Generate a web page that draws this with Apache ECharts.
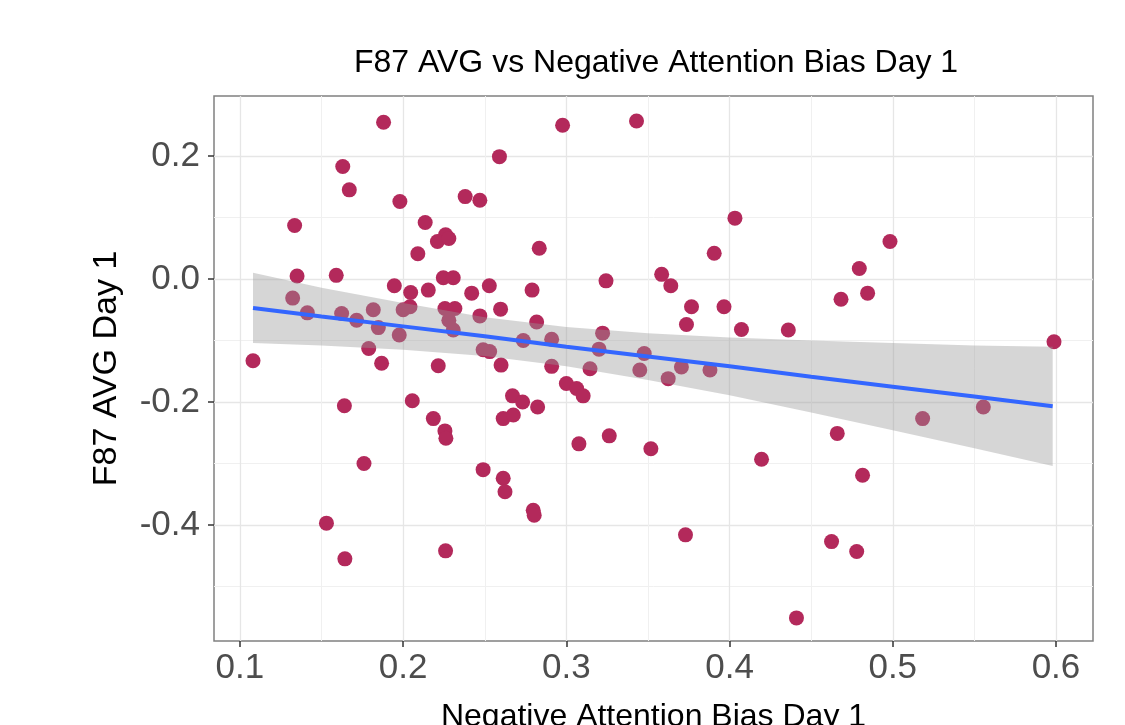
<!DOCTYPE html>
<html>
<head>
<meta charset="utf-8">
<title>F87 AVG vs Negative Attention Bias Day 1</title>
<script src="https://cdn.jsdelivr.net/npm/echarts@6/dist/echarts.min.js"></script>
<style>
  html, body { margin: 0; padding: 0; background: #fff; }
  #chart { width: 1125px; height: 725px; }
</style>
</head>
<body>
<div id="chart"></div>
<script>
// points: [negative attention bias, F87 avg]
var pointsX = [
  0.188, 0.259, 0.163, 0.167, 0.198, 0.238, 0.247, 0.1335, 0.2135, 0.226,
  0.221, 0.228, 0.209, 0.135, 0.159, 0.1946, 0.2046, 0.2154, 0.2246, 0.2307,
  0.242, 0.2528, 0.2597, 0.1323, 0.1413, 0.1623, 0.1715, 0.1817, 0.1848, 0.200,
  0.2042, 0.1976, 0.2256, 0.2317, 0.228, 0.2307, 0.247, 0.1789, 0.108, 0.1868,
  0.2215, 0.249, 0.253, 0.260, 0.2977, 0.343, 0.4033, 0.2834, 0.3906, 0.3243,
  0.3584, 0.364, 0.279, 0.3767, 0.3966, 0.2818, 0.3736, 0.4073, 0.436, 0.3222,
  0.2736, 0.291, 0.320, 0.3477, 0.291, 0.3145, 0.345, 0.3705, 0.388, 0.3624,
  0.300, 0.3063, 0.3103, 0.267, 0.2732, 0.2824, 0.2613, 0.2675, 0.3077, 0.3263,
  0.3518, 0.4196, 0.2613, 0.2624, 0.2797, 0.2803, 0.373, 0.441, 0.164, 0.2056,
  0.2185, 0.2256, 0.2262, 0.176, 0.249, 0.153, 0.1643, 0.226, 0.4983, 0.4795,
  0.4683, 0.4846, 0.5988, 0.5183, 0.5555, 0.466, 0.4815, 0.4625, 0.4779
];
var pointsY = [
  0.255, 0.199, 0.183, 0.145, 0.126, 0.134, 0.128, 0.087, 0.092, 0.072,
  0.061, 0.066, 0.041, 0.005, 0.006, -0.011, -0.022, -0.018, 0.002, 0.002,
  -0.023, -0.011, -0.049, -0.031, -0.055, -0.056, -0.067, -0.050, -0.079, -0.050,
  -0.045, -0.091, -0.048, -0.048, -0.067, -0.083, -0.060, -0.113, -0.133, -0.137,
  -0.141, -0.115, -0.118, -0.140, 0.250, 0.257, 0.099, 0.050, 0.042, -0.003,
  0.0076, -0.011, -0.018, -0.045, -0.045, -0.070, -0.074, -0.082, -0.083, -0.088,
  -0.100, -0.098, -0.114, -0.121, -0.142, -0.146, -0.148, -0.143, -0.148, -0.162,
  -0.170, -0.178, -0.190, -0.190, -0.200, -0.208, -0.227, -0.221, -0.268, -0.255,
  -0.276, -0.293, -0.324, -0.346, -0.376, -0.384, -0.416, -0.551, -0.206, -0.198,
  -0.227, -0.247, -0.259, -0.300, -0.310, -0.397, -0.455, -0.442, 0.061, 0.017,
  -0.033, -0.023, -0.102, -0.227, -0.208, -0.251, -0.319, -0.427, -0.443
];

// lm smooth
var fitX = [0.108, 0.15, 0.2, 0.25, 0.3, 0.35, 0.4, 0.45, 0.5, 0.55, 0.598];
var fitY = [-0.047, -0.061, -0.077, -0.093, -0.110, -0.126, -0.142, -0.159, -0.175, -0.191, -0.207];
var bandUpper = [0.010, -0.014, -0.039, -0.062, -0.078, -0.088, -0.095, -0.100, -0.104, -0.108, -0.110];
var bandLower = [-0.104, -0.108, -0.115, -0.125, -0.142, -0.164, -0.189, -0.217, -0.246, -0.275, -0.304];

var xMajor = [0.1, 0.2, 0.3, 0.4, 0.5, 0.6];
var xMinor = [0.15, 0.25, 0.35, 0.45, 0.55];
var yMajor = [-0.4, -0.2, 0.0, 0.2];
var yMinor = [-0.5, -0.3, -0.1, 0.1];

var font = "'Liberation Sans', Arial, Helvetica, sans-serif";

var scatterData = pointsX.map(function (x, i) { return [x, pointsY[i]]; });
var lineData = fitX.map(function (x, i) { return [x, fitY[i]]; });
var bandData = fitX.map(function (x, i) { return [x, bandLower[i], bandUpper[i]]; });

var chart = echarts.init(document.getElementById("chart"));

function majorAxis(min, max, ticks, isX) {
  return {
    type: "value",
    min: min,
    max: max,
    position: isX ? "bottom" : "left",
    axisLine: { show: false, onZero: false },
    axisTick: {
      show: true,
      customValues: ticks,
      length: 6,
      lineStyle: { color: "#333", width: 1.5 }
    },
    axisLabel: {
      customValues: ticks,
      formatter: function (v) { return v.toFixed(1); },
      fontFamily: font,
      fontSize: 35,
      color: "#4d4d4d",
      margin: isX ? 10 : 14
    },
    splitLine: { show: true, lineStyle: { color: "#e6e6e6", width: 1.3 } },
    name: isX ? "Negative Attention Bias Day 1" : "F87 AVG Day 1",
    nameLocation: "middle",
    nameGap: isX ? 60 : 90,
    nameTextStyle: {
      fontFamily: font,
      fontSize: isX ? 32 : 34,
      color: "#000"
    }
  };
}

function minorAxis(min, max, ticks, isX) {
  return {
    type: "value",
    min: min,
    max: max,
    position: isX ? "bottom" : "left",
    axisLine: { show: false, onZero: false },
    axisTick: { show: false, customValues: ticks },
    axisLabel: { show: false, customValues: ticks },
    splitLine: { show: true, lineStyle: { color: "#f0f0f0", width: 1 } }
  };
}

chart.setOption({
  animation: false,
  backgroundColor: "#fff",
  title: {
    text: "F87 AVG vs Negative Attention Bias Day 1",
    left: 349,
    top: 42,
    textStyle: { fontFamily: font, fontSize: 32, fontWeight: "normal", color: "#000" }
  },
  grid: {
    left: 214,
    right: 32,
    top: 96,
    bottom: 84,
    containLabel: false,
    outerBoundsMode: "none",
    show: true,
    borderColor: "#808080",
    borderWidth: 1.5,
    backgroundColor: "transparent"
  },
  xAxis: [
    majorAxis(0.0841, 0.6227, xMajor, true),
    minorAxis(0.0841, 0.6227, xMinor, true)
  ],
  yAxis: [
    majorAxis(-0.5886, 0.2976, yMajor, false),
    minorAxis(-0.5886, 0.2976, yMinor, false)
  ],
  series: [
    {
      type: "scatter",
      data: scatterData,
      symbolSize: 15,
      itemStyle: { color: "#b3295b", opacity: 1 },
      z: 2
    },
    {
      type: "custom",
      data: bandData,
      z: 3,
      silent: true,
      renderItem: function (params, api) {
        if (params.dataIndex !== 0) return null;
        var pts = [];
        for (var i = 0; i < bandData.length; i++) {
          pts.push(api.coord([bandData[i][0], bandData[i][2]]));
        }
        for (var j = bandData.length - 1; j >= 0; j--) {
          pts.push(api.coord([bandData[j][0], bandData[j][1]]));
        }
        return {
          type: "polygon",
          shape: { points: pts },
          style: { fill: "rgba(153,153,153,0.4)" }
        };
      }
    },
    {
      type: "line",
      data: lineData,
      showSymbol: false,
      lineStyle: { color: "#3366ff", width: 4 },
      z: 4
    }
  ]
});
</script>
</body>
</html>
